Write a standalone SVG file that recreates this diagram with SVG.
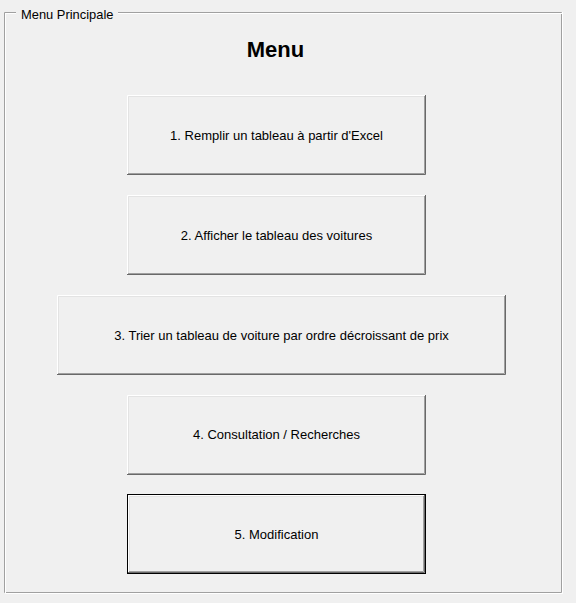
<svg xmlns="http://www.w3.org/2000/svg" width="576" height="603" viewBox="0 0 576 603">
<style>
.lbl{font-family:"Liberation Sans",Arial,sans-serif;font-size:13px;fill:#000;text-anchor:middle}
.hi{stroke:#fff;fill:none;stroke-width:1}
.sh{stroke:#696969;fill:none;stroke-width:1}
.hi2{stroke:#e3e3e3;fill:none;stroke-width:1}
.sh2{stroke:#a0a0a0;fill:none;stroke-width:1}
.face{fill:#f0f0f0}
</style>
<rect width="576" height="603" fill="#f0f0f0"/>
<g id="frame">
<path d="M16 12.5H4.5V592.5H561.5V12.5H118" stroke="#a0a0a0" fill="none"/>
<path d="M16 13.5H5.5M5.5 13V593.5H562.5V12M562 13.5H118" stroke="#fff" fill="none"/>
<text x="21" y="19" font-family="Liberation Sans,Arial,sans-serif" font-size="12.9" fill="#000">Menu Principale</text>
</g>
<g id="title">
<text x="275.5" y="57" font-family="Liberation Sans,Arial,sans-serif" font-size="22" font-weight="bold" fill="#000" text-anchor="middle">Menu</text>
</g>
<g id="btn1">
<rect class="face" x="127" y="95" width="299" height="80"/>
<path class="hi" d="M127.5 174V95.5H425"/>
<path class="sh" d="M127 174.5H425.5V95"/>
<path class="hi2" d="M128.5 173V96.5H424"/>
<path class="sh2" d="M128 173.5H424.5V96"/>
<text class="lbl" x="276.5" y="140">1. Remplir un tableau à partir d'Excel</text>
</g>
<g id="btn2">
<rect class="face" x="127" y="195" width="299" height="80"/>
<path class="hi" d="M127.5 274V195.5H425"/>
<path class="sh" d="M127 274.5H425.5V195"/>
<path class="hi2" d="M128.5 273V196.5H424"/>
<path class="sh2" d="M128 273.5H424.5V196"/>
<text class="lbl" x="276.5" y="240">2. Afficher le tableau des voitures</text>
</g>
<g id="btn3">
<rect class="face" x="57" y="295" width="449" height="80"/>
<path class="hi" d="M57.5 374V295.5H505"/>
<path class="sh" d="M57 374.5H505.5V295"/>
<path class="hi2" d="M58.5 373V296.5H504"/>
<path class="sh2" d="M58 373.5H504.5V296"/>
<text class="lbl" x="281.5" y="340">3. Trier un tableau de voiture par ordre décroissant de prix</text>
</g>
<g id="btn4">
<rect class="face" x="127" y="395" width="299" height="80"/>
<path class="hi" d="M127.5 474V395.5H425"/>
<path class="sh" d="M127 474.5H425.5V395"/>
<path class="hi2" d="M128.5 473V396.5H424"/>
<path class="sh2" d="M128 473.5H424.5V396"/>
<text class="lbl" x="276.5" y="439">4. Consultation / Recherches</text>
</g>
<g id="btn5">
<rect class="face" x="127" y="494" width="299" height="80"/>
<rect x="127.5" y="494.5" width="298" height="79" fill="none" stroke="#000"/>
<path class="hi" d="M128.5 572V495.5H424"/>
<path class="sh" d="M128 572.5H424.5V495"/>
<path class="hi2" d="M129.5 571V496.5H423"/>
<path class="sh2" d="M129 571.5H423.5V496"/>
<text class="lbl" x="276.5" y="539">5. Modification</text>
</g>
<g id="connectors"/>
</svg>
